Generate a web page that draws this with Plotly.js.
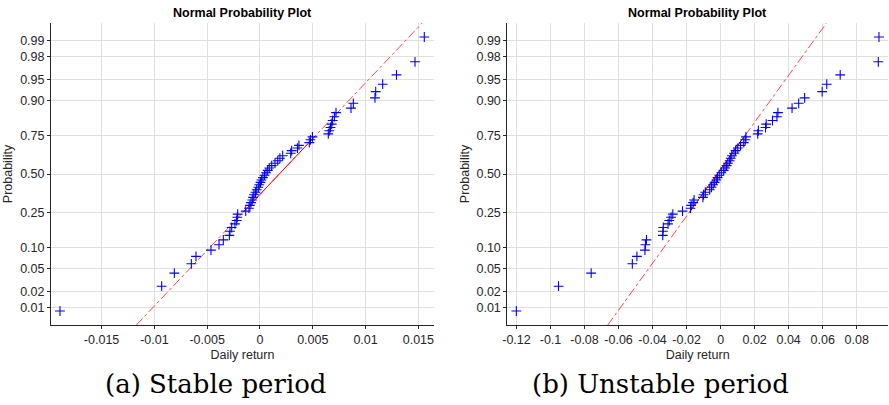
<!DOCTYPE html>
<html>
<head>
<meta charset="utf-8">
<script src="https://cdn.plot.ly/plotly-3.0.1.min.js"></script>
<style>html,body{margin:0;padding:0;background:#fff;}#chart{width:889px;height:405px;}</style>
</head>
<body>
<div id="chart"></div>
<script>
const stableReturns = [-0.01894,-0.00931,-0.00811,-0.00650,-0.00606,-0.00464,-0.00388,-0.00347,-0.00290,-0.00284,
  -0.00268,-0.00237,-0.00221,-0.00215,-0.00211,-0.00135,-0.00104,-0.00095,-0.00085,-0.00073,
  -0.00066,-0.00057,-0.00043,-0.00031,-0.00016,-0.00007,0.00005,0.00014,0.00028,0.00043,
  0.00057,0.00073,0.00088,0.00111,0.00142,0.00168,0.00189,0.00215,0.00291,0.00300,
  0.00355,0.00369,0.00467,0.00478,0.00497,0.00647,0.00656,0.00668,0.00679,0.00688,
  0.00705,0.00720,0.00862,0.00884,0.01089,0.01096,0.01162,0.01293,0.01468,0.01556];
const unstableReturns = [-0.1201,-0.0953,-0.0761,-0.0519,-0.0492,-0.0445,-0.0442,-0.0436,-0.0340,-0.0339,
  -0.0337,-0.0309,-0.0302,-0.0291,-0.0281,-0.0224,-0.0177,-0.0173,-0.0162,-0.0156,
  -0.0104,-0.0100,-0.0090,-0.0064,-0.0054,-0.0044,-0.0035,-0.0025,-0.0018,-0.0008,
  0.0004,0.0018,0.0026,0.0035,0.0043,0.0053,0.0059,0.0066,0.0079,0.0088,
  0.0101,0.0117,0.0136,0.0145,0.0149,0.0218,0.0222,0.0264,0.0268,0.0305,
  0.0331,0.0337,0.0420,0.0459,0.0494,0.0597,0.0624,0.0703,0.0927,0.0931];
// Reference line (mean, std)
const stableLine = [0.00183, 0.005129];
const unstableLine = [-0.00205, 0.02437];
// Tick labels
const probTicks = [0.01,0.02,0.05,0.10,0.25,0.50,0.75,0.90,0.95,0.98,0.99];
const probTickText = ['0.01','0.02','0.05','0.10','0.25','0.50','0.75','0.90','0.95','0.98','0.99'];
const stableXTicks = [-0.015,-0.01,-0.005,0,0.005,0.01,0.015];
const stableXText = ['-0.015','-0.01','-0.005','0','0.005','0.01','0.015'];
const unstableXTicks = [-0.12,-0.1,-0.08,-0.06,-0.04,-0.02,0,0.02,0.04,0.06,0.08];
const unstableXText = ['-0.12','-0.1','-0.08','-0.06','-0.04','-0.02','0','0.02','0.04','0.06','0.08'];
const captions = ['(a) Stable period', '(b) Unstable period'];
const titleText = 'Normal Probability Plot';

// inverse normal CDF (Acklam)
function norminv(p){
  const a=[-3.969683028665376e+01,2.209460984245205e+02,-2.759285104469687e+02,1.383577518672690e+02,-3.066479806614716e+01,2.506628277459239e+00];
  const b=[-5.447609879822406e+01,1.615858368580409e+02,-1.556989798598866e+02,6.680131188771972e+01,-1.328068155288572e+01];
  const c=[-7.784894002430293e-03,-3.223964580411365e-01,-2.400758277161838e+00,-2.549732539343734e+00,4.374664141464968e+00,2.938163982698783e+00];
  const d=[7.784695709041462e-03,3.224671290700398e-01,2.445134137142996e+00,3.754408661907416e+00];
  const pl=0.02425, ph=1-pl; let q,r;
  if(p<pl){q=Math.sqrt(-2*Math.log(p));return (((((c[0]*q+c[1])*q+c[2])*q+c[3])*q+c[4])*q+c[5])/((((d[0]*q+d[1])*q+d[2])*q+d[3])*q+1);}
  if(p<=ph){q=p-0.5;r=q*q;return (((((a[0]*r+a[1])*r+a[2])*r+a[3])*r+a[4])*r+a[5])*q/(((((b[0]*r+b[1])*r+b[2])*r+b[3])*r+b[4])*r+1);}
  q=Math.sqrt(-2*Math.log(1-p));return -(((((c[0]*q+c[1])*q+c[2])*q+c[3])*q+c[4])*q+c[5])/((((d[0]*q+d[1])*q+d[2])*q+d[3])*q+1);
}

function panel(data, line, xa, ya){
  const n = data.length;
  const z = data.map((_,i)=>norminv((i+0.5)/n));
  const zLim = -norminv(0.25/n);
  const zq = norminv(0.75);
  const traces = [];
  traces.push({x:[line[0]-zLim*line[1], line[0]+zLim*line[1]], y:[-zLim, zLim], xaxis:xa, yaxis:ya,
    mode:'lines', line:{color:'#ff3030', width:0.9, dash:'dashdot'}, hoverinfo:'skip', showlegend:false});
  traces.push({x:[line[0]-zq*line[1], line[0]+zq*line[1]], y:[-zq, zq], xaxis:xa, yaxis:ya,
    mode:'lines', line:{color:'#ff0000', width:1}, hoverinfo:'skip', showlegend:false});
  traces.push({x:data, y:z, xaxis:xa, yaxis:ya, mode:'markers',
    marker:{symbol:'cross-thin-open', size:7, line:{color:'#0000ff', width:1.1}, color:'#0000ff'}, showlegend:false});
  return {traces, zLim};
}

const p1 = panel(stableReturns, stableLine, 'x', 'y');
const p2 = panel(unstableReturns, unstableLine, 'x2', 'y2');
const W=889, H=405;
const font = {family:'Liberation Sans, Arial, sans-serif', size:12.5, color:'#262626'};
function xax(dom, ticks, text, range){
  return {domain:dom, range:range, tickvals:ticks, ticktext:text, showgrid:true, gridcolor:'#dfdfdf', gridwidth:1,
    zeroline:false, showline:true, linecolor:'#262626', linewidth:1, ticks:'outside', ticklen:3, tickcolor:'#262626',
    tickfont:font, title:{text:'Daily return', font:font, standoff:4}, fixedrange:true};
}
function yax(anchor, zLim){
  return {domain:[1-325/H, 1-23/H], range:[-zLim, zLim], anchor:anchor, tickvals:probTicks.map(norminv), ticktext:probTickText,
    showgrid:true, gridcolor:'#dfdfdf', gridwidth:1, zeroline:false, showline:true, linecolor:'#262626', linewidth:1,
    ticks:'outside', ticklen:3, tickcolor:'#262626', tickfont:font, title:{text:'Probability', font:font, standoff:4}, fixedrange:true};
}
const xd1=[51/W, 434/W], xd2=[507.3/W, 888/W];
const capFont = {family:'DejaVu Serif, serif', size:26, color:'#000'};
const layout = {
  width:W, height:H, margin:{l:0,r:0,t:0,b:0}, paper_bgcolor:'#fff', plot_bgcolor:'#fff', showlegend:false,
  xaxis: Object.assign(xax(xd1, stableXTicks, stableXText, [-0.01979, 0.01648]), {anchor:'y'}),
  yaxis: yax('x', p1.zLim),
  xaxis2: Object.assign(xax(xd2, unstableXTicks, unstableXText, [-0.1254, 0.0984]), {anchor:'y2'}),
  yaxis2: yax('x2', p2.zLim),
  annotations:[
    {text:'<b>'+titleText+'</b>', xref:'paper', yref:'paper', x:(xd1[0]+xd1[1])/2, y:1-13/H, showarrow:false, font:{family:font.family, size:12.5, color:'#000'}, xanchor:'center', yanchor:'middle'},
    {text:'<b>'+titleText+'</b>', xref:'paper', yref:'paper', x:(xd2[0]+xd2[1])/2, y:1-13/H, showarrow:false, font:{family:font.family, size:12.5, color:'#000'}, xanchor:'center', yanchor:'middle'},
    {text:captions[0], xref:'paper', yref:'paper', x:216/W, y:1-384/H, showarrow:false, font:capFont, xanchor:'center', yanchor:'middle'},
    {text:captions[1], xref:'paper', yref:'paper', x:660/W, y:1-384/H, showarrow:false, font:capFont, xanchor:'center', yanchor:'middle'}
  ]
};
Plotly.newPlot('chart', p1.traces.concat(p2.traces), layout, {staticPlot:true, displayModeBar:false});
</script>
</body>
</html>
